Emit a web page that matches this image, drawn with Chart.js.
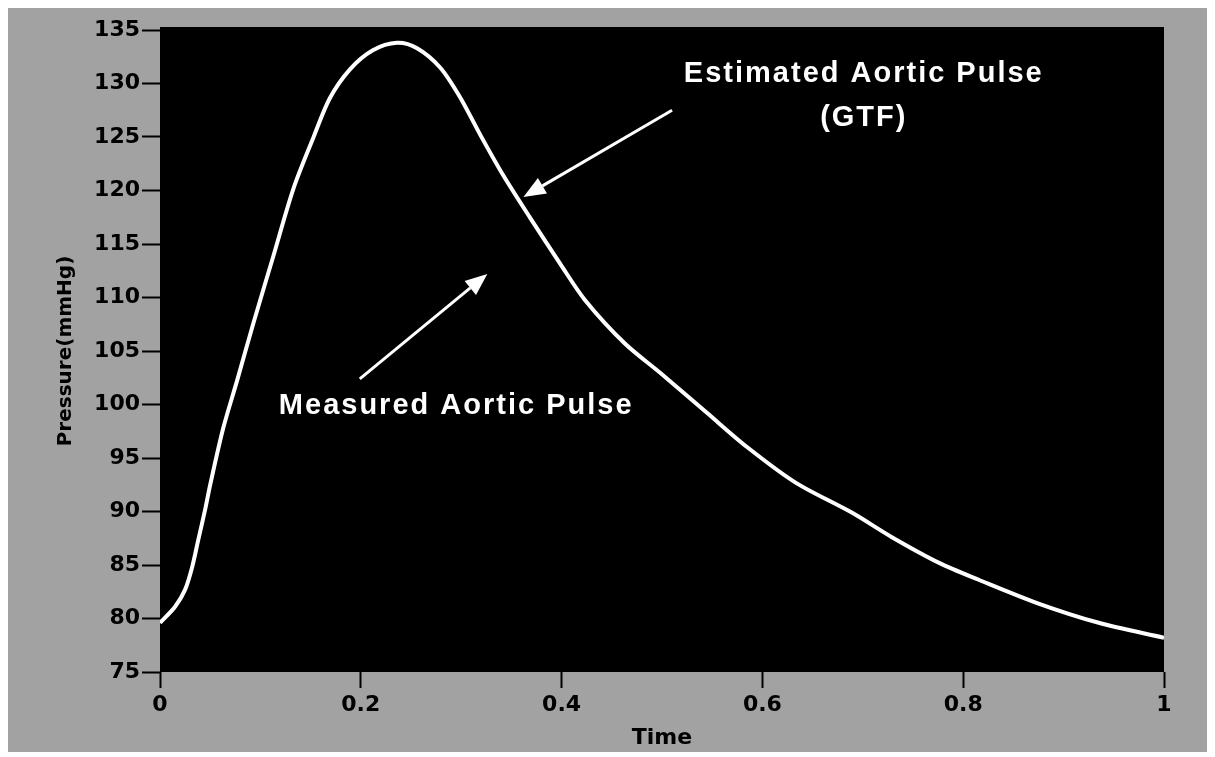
<!DOCTYPE html>
<html>
<head>
<meta charset="utf-8">
<title>Aortic pressure pulse</title>
<script src="https://cdn.jsdelivr.net/npm/chart.js@4.4.1/dist/chart.umd.min.js"></script>
<style>
  html, body { margin: 0; padding: 0; background: #ffffff; }
  #wrap { width: 1215px; height: 757px; }
</style>
</head>
<body>
<div id="wrap"><canvas id="pulse"></canvas></div>
<script>
// time (s) and pressure (mmHg) samples along the measured pulse
const timeSec = [
  0, 0.015, 0.025, 0.032, 0.038, 0.045, 0.05, 0.063, 0.077,
  0.093, 0.113, 0.133, 0.153, 0.169, 0.189, 0.212, 0.236, 0.256, 0.279, 0.299,
  0.319, 0.342, 0.369, 0.399, 0.423, 0.463, 0.499, 0.545, 0.585, 0.633, 0.689,
  0.729, 0.776, 0.816, 0.875, 0.935, 1.0,
];
const pressure = [
  79.6, 81.1, 82.7, 84.8, 87.3, 90.2, 92.5, 97.8, 102.3,
  107.6, 113.9, 120.2, 125.0, 128.6, 131.3, 133.1, 133.8, 133.3, 131.5, 128.7,
  125.2, 121.4, 117.4, 113.1, 109.8, 105.7, 102.9, 99.2, 96.0, 92.7, 89.9,
  87.6, 85.2, 83.6, 81.4, 79.6, 78.2,
];

const xTicks = [0, 0.2, 0.4, 0.6, 0.8, 1];
const xTickLabels = ['0', '0.2', '0.4', '0.6', '0.8', '1'];
const yTicks = [75, 80, 85, 90, 95, 100, 105, 110, 115, 120, 125, 130, 135];

// callouts, placed in data units
const callouts = [
  { lines: ['Estimated Aortic Pulse', '(GTF)'], x: 0.701, y: [130.9, 126.8] },
  { lines: ['Measured Aortic Pulse'], x: 0.295, y: [99.9] },
];
const arrows = [
  { from: [0.510, 127.5], to: [0.362, 119.4] },
  { from: [0.199, 102.4], to: [0.326, 112.2] },
];

const backdrop = {
  id: 'backdrop',
  beforeDraw(chart) {
    const { ctx, width, height, chartArea } = chart;
    ctx.save();
    ctx.fillStyle = '#ffffff';
    ctx.fillRect(0, 0, width, height);
    ctx.fillStyle = '#a2a2a2';
    ctx.fillRect(8, 8, width - 16, height - 13);
    ctx.fillStyle = '#000000';
    ctx.fillRect(chartArea.left, chartArea.top - 3,
      chartArea.right - chartArea.left, chartArea.bottom - chartArea.top + 3);
    ctx.restore();
  },
};

const drawArrow = (ctx, x0, y0, x1, y1) => {
  const ang = Math.atan2(y1 - y0, x1 - x0);
  const headLen = 22;
  const headHalf = 9;
  const bx = x1 - headLen * Math.cos(ang);
  const by = y1 - headLen * Math.sin(ang);
  ctx.beginPath();
  ctx.moveTo(x0, y0);
  ctx.lineTo(bx, by);
  ctx.stroke();
  ctx.beginPath();
  ctx.moveTo(x1, y1);
  ctx.lineTo(bx + headHalf * Math.sin(ang), by - headHalf * Math.cos(ang));
  ctx.lineTo(bx - headHalf * Math.sin(ang), by + headHalf * Math.cos(ang));
  ctx.closePath();
  ctx.fill();
};

const notes = {
  id: 'notes',
  afterDatasetsDraw(chart) {
    const { ctx, scales: { x, y } } = chart;
    ctx.save();
    ctx.fillStyle = '#ffffff';
    ctx.strokeStyle = '#ffffff';
    ctx.lineWidth = 3;
    arrows.forEach((a) => {
      drawArrow(ctx,
        x.getPixelForValue(a.from[0]), y.getPixelForValue(a.from[1]),
        x.getPixelForValue(a.to[0]), y.getPixelForValue(a.to[1]));
    });
    ctx.font = 'bold 29px "Liberation Sans", Arial, sans-serif';
    ctx.letterSpacing = '2px';
    ctx.textAlign = 'center';
    ctx.textBaseline = 'middle';
    callouts.forEach((c) => {
      c.lines.forEach((line, i) => {
        ctx.fillText(line, x.getPixelForValue(c.x), y.getPixelForValue(c.y[i]));
      });
    });
    ctx.restore();
  },
};

const tickFont = { family: '"DejaVu Sans", Verdana, sans-serif', size: 22, weight: 'bold' };

new Chart(document.getElementById('pulse'), {
  type: 'line',
  data: {
    datasets: [{
      data: timeSec.map((t, i) => ({ x: t, y: pressure[i] })),
      borderColor: '#ffffff',
      borderWidth: 4,
      pointRadius: 0,
      tension: 0.3,
      fill: false,
    }],
  },
  options: {
    responsive: true,
    maintainAspectRatio: false,
    animation: false,
    layout: { padding: { left: 8, right: 51, top: 30, bottom: 5 } },
    plugins: { legend: { display: false }, tooltip: { enabled: false } },
    scales: {
      x: {
        type: 'linear',
        min: 0,
        max: 1,
        afterBuildTicks: (scale) => { scale.ticks = xTicks.map((v) => ({ value: v })); },
        afterFit: (scale) => { scale.height = 80; },
        ticks: {
          color: '#000000',
          font: tickFont,
          padding: 4,
          maxRotation: 0,
          callback: (v, i) => xTickLabels[i],
        },
        grid: {
          drawOnChartArea: false,
          tickLength: 16,
          tickWidth: 2,
          tickColor: '#000000',
        },
        border: { display: false },
        title: {
          display: true,
          text: 'Time',
          color: '#000000',
          font: tickFont,
          padding: { top: 0, bottom: 1 },
        },
      },
      y: {
        type: 'linear',
        min: 75,
        max: 135,
        afterBuildTicks: (scale) => { scale.ticks = yTicks.map((v) => ({ value: v })); },
        afterFit: (scale) => { scale.width = 152; },
        ticks: {
          color: '#000000',
          font: tickFont,
          padding: 2,
        },
        grid: {
          drawOnChartArea: false,
          tickLength: 18,
          tickWidth: 2,
          tickColor: '#000000',
        },
        border: { display: false },
        title: {
          display: true,
          text: 'Pressure(mmHg)',
          color: '#000000',
          font: { family: '"DejaVu Sans", Verdana, sans-serif', size: 20, weight: 'bold' },
          padding: { top: 46, bottom: 0 },
        },
      },
    },
  },
  plugins: [backdrop, notes],
});
</script>
</body>
</html>
